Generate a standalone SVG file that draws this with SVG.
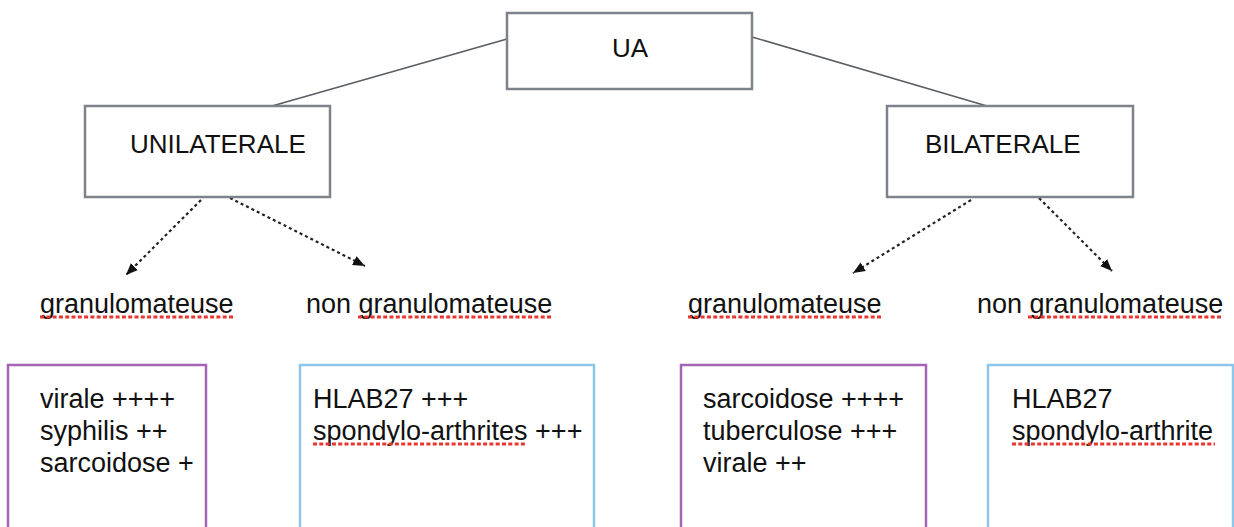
<svg xmlns="http://www.w3.org/2000/svg" width="1234" height="527" viewBox="0 0 1234 527">
<style>
text{font-family:"Liberation Sans",Arial,Helvetica,sans-serif;fill:#111;}
.h{font-size:26px;}
.b{font-size:27px;}
.gbox{fill:#fff;stroke:#7d838a;stroke-width:2.5;}
.pbox{fill:#fff;stroke:#a466b4;stroke-width:2.5;}
.cbox{fill:#fff;stroke:#8cc6ea;stroke-width:2.5;}
.solid{stroke:#5a5e63;stroke-width:1.6;fill:none;}
.dot{stroke:#222;stroke-width:2.2;stroke-dasharray:3 3;fill:none;}
.sq{stroke:#e8372f;stroke-width:3;stroke-dasharray:4 2.3;fill:none;}
</style>
<defs>
<marker id="ah" viewBox="0 0 12 10" refX="12" refY="5" markerWidth="12" markerHeight="10" markerUnits="userSpaceOnUse" orient="auto">
<path d="M0,0 L12,5 L0,10 z" fill="#111"/>
</marker>
</defs>
<rect width="1234" height="527" fill="#fff"/>
<g id="connectors">
<line class="solid" x1="507" y1="39" x2="272" y2="106"/>
<line class="solid" x1="752" y1="37" x2="987" y2="106"/>
<line class="dot" x1="201" y1="200" x2="126" y2="275" marker-end="url(#ah)"/>
<line class="dot" x1="230" y1="198" x2="365" y2="266" marker-end="url(#ah)"/>
<line class="dot" x1="971" y1="200" x2="853" y2="273" marker-end="url(#ah)"/>
<line class="dot" x1="1039" y1="198" x2="1112" y2="271" marker-end="url(#ah)"/>
</g>
<g id="node-ua">
<rect class="gbox" x="507" y="13" width="245" height="76"/>
<text class="h" x="630" y="57" text-anchor="middle">UA</text>
</g>
<g id="node-unilaterale">
<rect class="gbox" x="85" y="106" width="245" height="91"/>
<text class="h" x="130" y="153">UNILATERALE</text>
</g>
<g id="node-bilaterale">
<rect class="gbox" x="887" y="106" width="246" height="91"/>
<text class="h" x="925" y="153">BILATERALE</text>
</g>
<g id="label-uni-gran">
<text class="b" x="40" y="313">granulomateuse</text>
<line class="sq" x1="40" y1="317" x2="233" y2="317"/>
</g>
<g id="label-uni-nongran">
<text class="b" x="306" y="313">non granulomateuse</text>
<line class="sq" x1="358" y1="317" x2="551" y2="317"/>
</g>
<g id="label-bil-gran">
<text class="b" x="688" y="313">granulomateuse</text>
<line class="sq" x1="688" y1="317" x2="881" y2="317"/>
</g>
<g id="label-bil-nongran">
<text class="b" x="977" y="313">non granulomateuse</text>
<line class="sq" x1="1028" y1="317" x2="1221" y2="317"/>
</g>
<g id="node-uni-gran-list">
<rect class="pbox" x="8" y="365" width="198" height="180"/>
<text class="b" x="40" y="408">virale ++++</text>
<text class="b" x="40" y="440">syphilis ++</text>
<text class="b" x="40" y="472">sarcoidose +</text>
</g>
<g id="node-uni-nongran-list">
<rect class="cbox" x="300" y="365" width="294" height="180"/>
<text class="b" x="313" y="408">HLAB27 +++</text>
<text class="b" x="313" y="440">spondylo-arthrites +++</text>
<line class="sq" x1="313" y1="444" x2="526" y2="444"/>
</g>
<g id="node-bil-gran-list">
<rect class="pbox" x="681" y="365" width="245" height="180"/>
<text class="b" x="703" y="408">sarcoidose ++++</text>
<text class="b" x="703" y="440">tuberculose +++</text>
<text class="b" x="703" y="472">virale ++</text>
</g>
<g id="node-bil-nongran-list">
<rect class="cbox" x="988" y="365" width="245" height="180"/>
<text class="b" x="1012" y="408">HLAB27</text>
<text class="b" x="1012" y="440">spondylo-arthrite</text>
<line class="sq" x1="1012" y1="444" x2="1215" y2="444"/>
</g>
</svg>
